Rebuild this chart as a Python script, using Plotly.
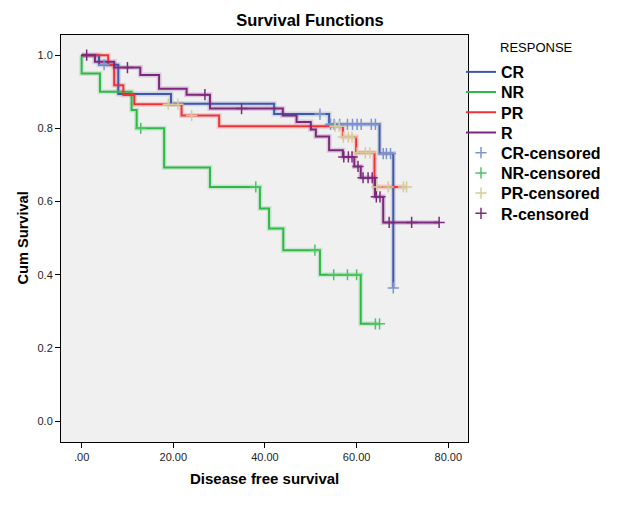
import plotly.graph_objects as go

# ---- data ----
groups = ["CR", "NR", "PR", "R"]

cr_times = [0, 3.8, 8.0, 19.5, 42.0, 54.0, 65.0, 68.0]
cr_surv = [1.0, 0.974, 0.894, 0.867, 0.839, 0.811, 0.731, 0.364]
cr_cens_t = [4.9, 52.0, 54.3, 55.1, 56.3, 58.0, 59.1, 60.1, 61.0, 63.2, 64.1, 65.8, 66.5, 67.4, 68.0]
cr_cens_s = [0.974, 0.839, 0.811, 0.811, 0.811, 0.811, 0.811, 0.811, 0.811, 0.811, 0.811, 0.731, 0.731, 0.731, 0.364]

nr_times = [0, 0, 4.0, 10.9, 12.0, 18.0, 28.0, 38.9, 40.9, 44.0, 52.0, 60.9]
nr_surv = [1.0, 0.95, 0.90, 0.85, 0.80, 0.693, 0.640, 0.581, 0.526, 0.467, 0.400, 0.266]
nr_cens_t = [12.9, 38.0, 50.9, 55.0, 58.0, 60.0, 64.1, 65.0]
nr_cens_s = [0.80, 0.640, 0.467, 0.400, 0.400, 0.400, 0.266, 0.266]

pr_times = [0, 5.8, 7.1, 9.1, 11.5, 21.8, 30.0, 57.0, 59.9, 63.9]
pr_surv = [1.0, 0.973, 0.918, 0.891, 0.866, 0.835, 0.806, 0.776, 0.733, 0.640]
pr_cens_t = [18.9, 21.0, 24.0, 55.3, 56.2, 57.1, 58.2, 59.0, 60.1, 61.9, 62.9, 64.4, 66.9, 70.2, 70.9]
pr_cens_s = [0.866, 0.866, 0.835, 0.806, 0.806, 0.776, 0.776, 0.776, 0.733, 0.733, 0.733, 0.640, 0.640, 0.640, 0.640]

r_times = [0, 2.9, 7.1, 12.8, 16.9, 22.9, 28.0, 43.9, 46.9, 50.0, 51.1, 54.0, 57.0, 59.5, 60.9, 64.0, 65.8]
r_surv = [1.0, 0.982, 0.966, 0.946, 0.908, 0.892, 0.854, 0.835, 0.817, 0.797, 0.778, 0.740, 0.722, 0.696, 0.665, 0.613, 0.543]
r_cens_t = [1.1, 10.0, 26.9, 34.9, 57.2, 58.2, 59.0, 60.3, 61.4, 62.5, 63.4, 64.3, 65.1, 67.1, 72.0, 78.0]
r_cens_s = [1.0, 0.966, 0.892, 0.854, 0.722, 0.722, 0.722, 0.696, 0.665, 0.665, 0.665, 0.613, 0.613, 0.543, 0.543, 0.543]

x_tickvals = [0, 20, 40, 60, 80]
x_ticktext = [".00", "20.00", "40.00", "60.00", "80.00"]
y_tickvals = [0.0, 0.2, 0.4, 0.6, 0.8, 1.0]
y_ticktext = ["0.0", "0.2", "0.4", "0.6", "0.8", "1.0"]

line_colors = ["#3E58AC", "#2EB848", "#F03238", "#7C287D"]
cens_colors = ["#7D93D0", "#4CC466", "#D3CE97", "#7C287D"]

series = [
    (cr_times, cr_surv, cr_cens_t, cr_cens_s),
    (nr_times, nr_surv, nr_cens_t, nr_cens_s),
    (pr_times, pr_surv, pr_cens_t, pr_cens_s),
    (r_times, r_surv, r_cens_t, r_cens_s),
]

FONT = "Liberation Sans, Arial, sans-serif"
# the page body has an 8px margin, so the figure is 8px smaller and shifted
OFF = 8
W, H = 625 - OFF, 526 - OFF
ML, MT = 61 - OFF, 35 - OFF
MR, MB = 157, 84
plot_w = W - ML - MR
plot_h = H - MT - MB

fig = go.Figure()

# halo lines (soft glow like the original)
for (t, s, ct, cs), col in zip(series, line_colors):
    end_t = max(max(t), max(ct))
    fig.add_trace(go.Scatter(x=t + [end_t], y=s + [s[-1]], mode="lines",
                             line=dict(shape="hv", color=col, width=5),
                             opacity=0.18, showlegend=False, hoverinfo="skip"))

legend_names = []
for i, (name, (t, s, ct, cs), col) in enumerate(zip(groups, series, line_colors)):
    end_t = max(max(t), max(ct))
    lg = "legend" if i == 0 else "legend%d" % (i + 1)
    legend_names.append(lg)
    fig.add_trace(go.Scatter(x=t + [end_t], y=s + [s[-1]], mode="lines", name=name,
                             legend=lg, line=dict(shape="hv", color=col, width=2)))

for i, (name, (t, s, ct, cs), col) in enumerate(zip(groups, series, cens_colors)):
    lg = "legend%d" % (i + 5)
    legend_names.append(lg)
    fig.add_trace(go.Scatter(x=ct, y=cs, mode="markers", name=name + "-censored",
                             legend=lg,
                             marker=dict(symbol="cross-thin", size=8, color=col,
                                         line=dict(color=col, width=1.5))))

layout_legends = {}
for k, lg in enumerate(legend_names):
    py = 72 + 20.2 * k - OFF  # pixel centre of each legend entry
    layout_legends[lg] = dict(
        x=(461 - OFF - ML) / plot_w, xanchor="left",
        y=(H - MB - py) / plot_h, yanchor="middle",
        font=dict(size=16, family=FONT, color="black", weight="bold"),
        bgcolor="rgba(0,0,0,0)", itemwidth=30)

fig.update_layout(
    width=W, height=H,
    margin=dict(l=ML, r=MR, t=MT, b=MB, autoexpand=False),
    paper_bgcolor="white", plot_bgcolor="#F0F0F0",
    font=dict(family=FONT, color="black"),
    title=dict(text="<b>Survival Functions</b>", x=(310 - OFF) / W, xref="container",
               xanchor="center", y=1 - (20 - OFF) / H, yanchor="middle", yref="container",
               font=dict(size=16.5, family=FONT, color="black")),
    showlegend=True,
    xaxis=dict(range=[-4.5, 84.3], tickvals=x_tickvals, ticktext=x_ticktext,
               ticks="outside", ticklen=5, tickcolor="black", tickwidth=1,
               showline=True, linecolor="black", linewidth=1, mirror=True,
               showgrid=False, zeroline=False,
               tickfont=dict(size=11, family=FONT, color="#222")),
    yaxis=dict(range=[-0.057, 1.055], tickvals=y_tickvals, ticktext=y_ticktext,
               ticks="outside", ticklen=5, tickcolor="black", tickwidth=1,
               showline=True, linecolor="black", linewidth=1, mirror=True,
               showgrid=False, zeroline=False,
               tickfont=dict(size=11, family=FONT, color="#222")),
    annotations=[
        dict(text="<b>Disease free survival</b>", xref="paper", yref="paper",
             x=0.5, y=0, yshift=-36, xanchor="center", yanchor="middle",
             showarrow=False, font=dict(size=15, family=FONT, color="black")),
        dict(text="<b>Cum Survival</b>", xref="paper", yref="paper",
             x=0, y=0.5, xshift=-39, textangle=-90, xanchor="center", yanchor="middle",
             showarrow=False, font=dict(size=14.6, family=FONT, color="black")),
        dict(text="RESPONSE", xref="paper", yref="paper",
             x=1, y=1, xshift=30, yshift=-12, xanchor="left", yanchor="middle",
             showarrow=False, font=dict(size=13, family=FONT, color="black")),
    ],
    **layout_legends,
)

fig.write_html("out.html")
